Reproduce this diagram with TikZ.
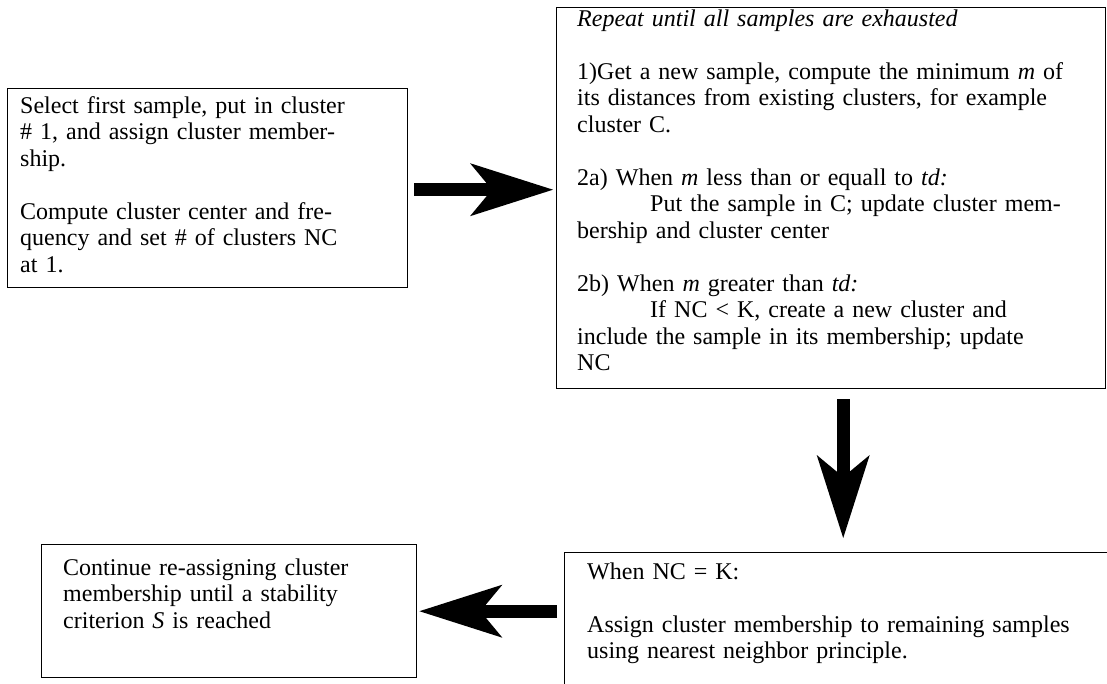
\documentclass[tikz,border=0pt]{standalone}
\usepackage{fontspec}
\setmainfont{Liberation Serif}
\usetikzlibrary{arrows.meta,calc}
\begin{document}
\begin{tikzpicture}[x=1pt,y=1pt,
  box/.style={draw, line width=1.4pt, rectangle, inner sep=0pt, anchor=north west},
  txt/.style={anchor=base west, inner sep=0pt, align=left, text width=#1,
              font=\fontsize{24}{26.5}\selectfont},
  bigarrow/.style={line width=13pt, -{Stealth[length=83pt,width=53pt,inset=22pt,line width=0pt]}}]
\useasboundingbox (0,0) rectangle (1107,-683);
\clip (0,0) rectangle (1107,-683);

% boxes
\node[box, minimum width=400pt, minimum height=199pt] (b1) at (7,-88) {};
\node[box, minimum width=549pt, minimum height=381pt] (b2) at (556,-7) {};
\node[box, minimum width=560pt, minimum height=150pt] (b3) at (564,-552) {};
\node[box, minimum width=375pt, minimum height=133pt] (b4) at (41,-544) {};

% texts
\node[txt=380pt] (t1) at (20,-113) {Select first sample, put in cluster\\
\# 1, and assign cluster member-\\
ship.\\[26.5pt]
Compute cluster center and fre-\\
quency and set \# of clusters NC\\
at 1.};

\node[txt=520pt] (t2) at (577,-26) {\textit{Repeat until all samples are exhausted}\\[26.5pt]
1)Get a new sample, compute the minimum \textit{m} of\\
its distances from existing clusters, for example\\
cluster C.\\[26.5pt]
2a) When \textit{m} less than or equall to \textit{td:}\\
\hspace*{73pt}Put the sample in C; update cluster mem-\\
bership and cluster center\\[26.5pt]
2b) When \textit{m} greater than \textit{td:}\\
\hspace*{73pt}If NC < K, create a new cluster and\\
include the sample in its membership; update\\
NC};

\node[txt=515pt] (t3) at (587,-579) {When NC = K:\\[26.5pt]
Assign cluster membership to remaining samples\\
using nearest neighbor principle.};

\node[txt=345pt] (t4) at (63,-575) {Continue re-assigning cluster\\
membership until a stability\\
criterion \textit{S} is reached};

% arrows
\coordinate (a1s) at ($(b1.east)+(6,-1.5)$);
\coordinate (a1e) at ($(b2.west |- b1.east)+(-3,-1.5)$);
\draw[bigarrow] (a1s) -- (a1e);

\coordinate (a2s) at ($(b2.south)+(12,-10)$);
\coordinate (a2e) at ($(a2s |- b3.north)+(0,14)$);
\draw[bigarrow] (a2s) -- (a2e);

\coordinate (a3s) at ($(b3.west |- b4.east)+(-7,0)$);
\coordinate (a3e) at ($(b4.east)+(2,0)$);
\draw[bigarrow] (a3s) -- (a3e);
\end{tikzpicture}
\end{document}
